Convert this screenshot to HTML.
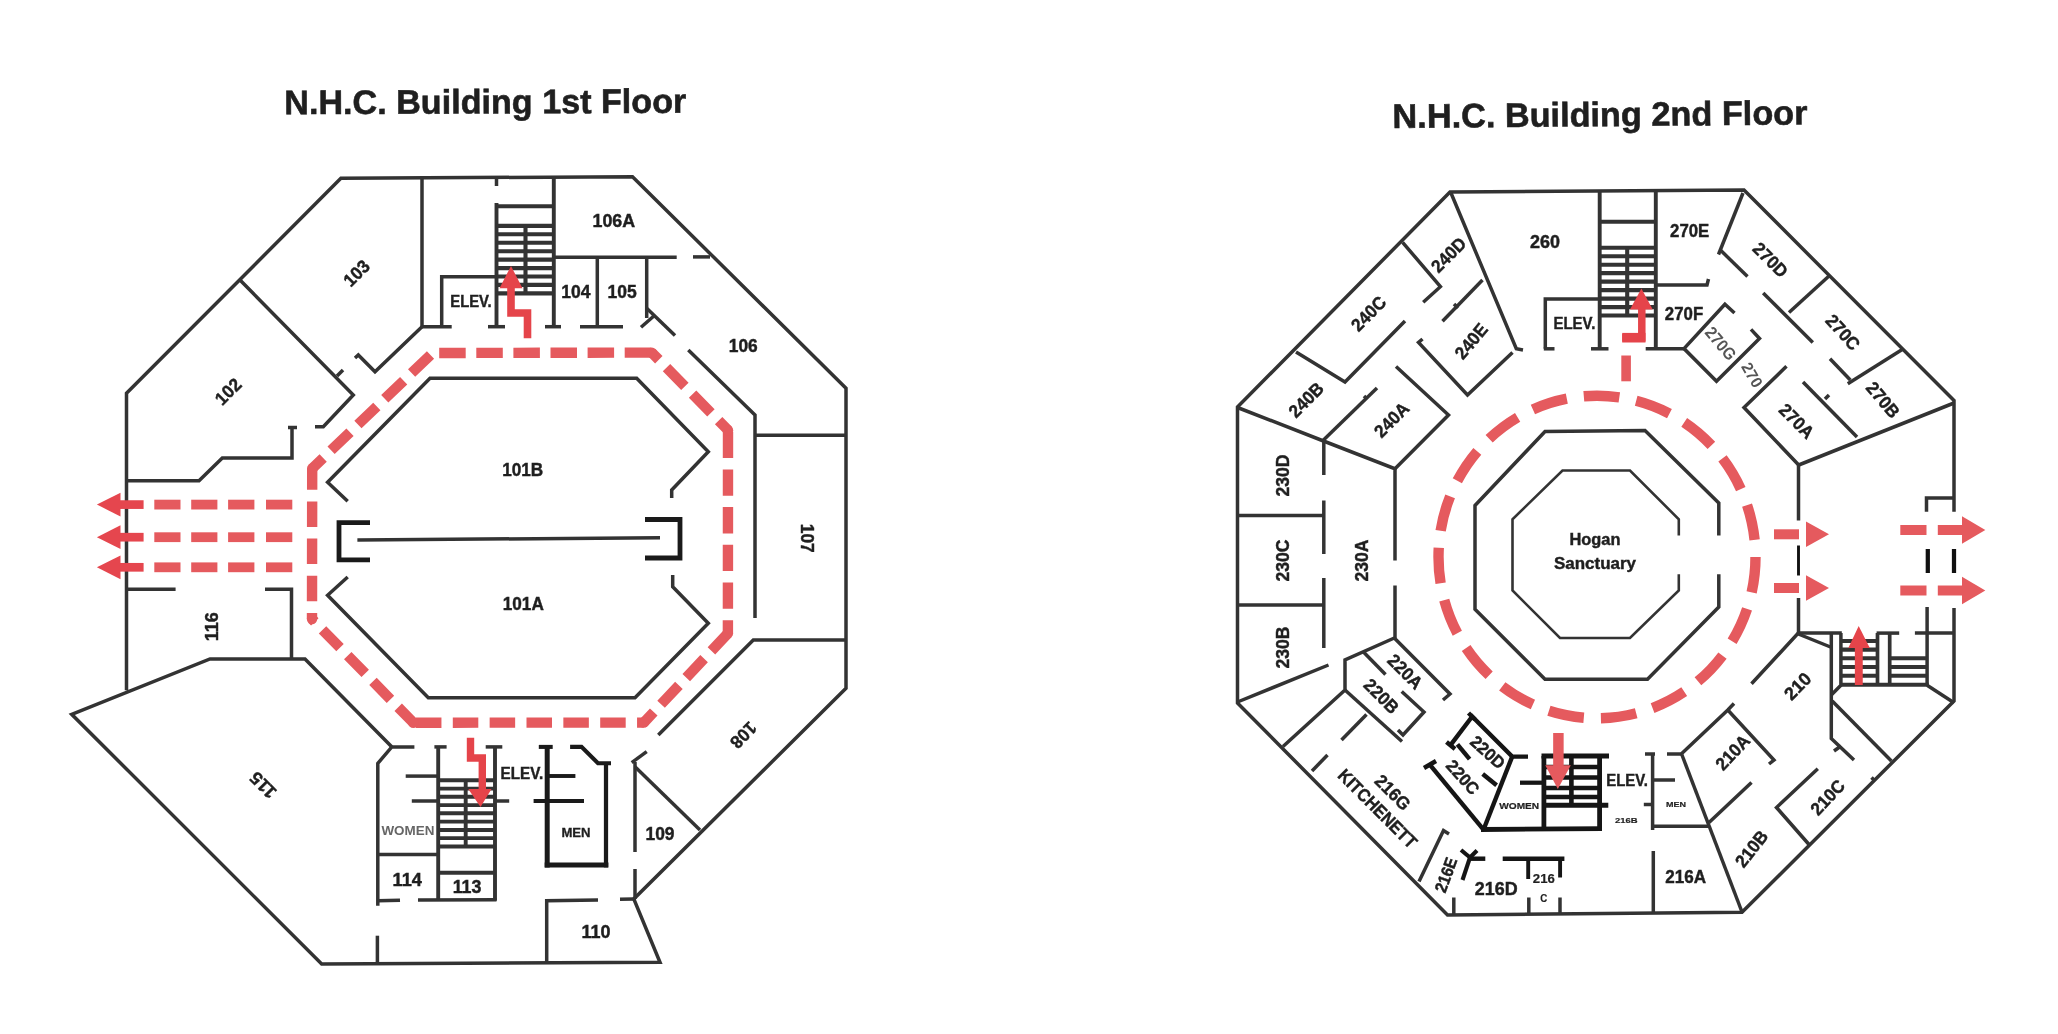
<!DOCTYPE html>
<html><head><meta charset="utf-8"><title>N.H.C. Building Floor Plans</title>
<style>
html,body{margin:0;padding:0;background:#fff;}
body{width:2058px;height:1034px;overflow:hidden;}
svg{display:block;font-family:"Liberation Sans",sans-serif;filter:blur(0.75px);}
</style></head><body>
<svg width="2058" height="1034" viewBox="0 0 2058 1034">
<rect width="2058" height="1034" fill="#ffffff"/>
<g id="floor1">
<text x="485.3" y="101.5" font-size="34" font-weight="bold" fill="#1f1f1f" text-anchor="middle" dominant-baseline="central" textLength="402" lengthAdjust="spacingAndGlyphs" transform="rotate(-0.2 485.3 101.5)" stroke="#1f1f1f" stroke-width="0.6">N.H.C. Building 1st Floor</text>
<path d="M126.5,690.3 L126.5,393.3 L340.9,178.3 L632.5,176.7 L846.0,388.3 L846.0,688.3 L633.8,899.0 L660.0,962.3 L321.7,964.0 L71.7,714.3 L210.0,659.0 L305.0,659.0 L391.7,746.7" fill="none" stroke="#333333" stroke-width="3.5" stroke-linecap="butt" stroke-linejoin="miter" />
<path d="M240.0,280.0 L353.3,395.0 L323.3,426.7 L315.0,426.7" fill="none" stroke="#333333" stroke-width="3.5" stroke-linecap="butt" stroke-linejoin="miter" />
<path d="M343.0,370.0 L337.0,376.0" fill="none" stroke="#333333" stroke-width="3.5" stroke-linecap="butt" stroke-linejoin="miter" />
<path d="M126.5,480.8 L199.0,480.8 L222.3,458.0 L292.0,458.0 L292.0,427.0" fill="none" stroke="#333333" stroke-width="3.5" stroke-linecap="butt" stroke-linejoin="miter" />
<path d="M288.0,427.5 L297.0,427.5" fill="none" stroke="#333333" stroke-width="3.5" stroke-linecap="butt" stroke-linejoin="miter" />
<path d="M422.0,326.7 L375.0,371.7 L358.3,355.0 L355.0,358.0" fill="none" stroke="#333333" stroke-width="3.5" stroke-linecap="butt" stroke-linejoin="miter" />
<path d="M422.0,178.0 L422.0,326.7 L451.7,326.7" fill="none" stroke="#333333" stroke-width="3.5" stroke-linecap="butt" stroke-linejoin="miter" />
<path d="M441.7,326.7 L441.7,276.7 L496.7,276.7" fill="none" stroke="#333333" stroke-width="3.5" stroke-linecap="butt" stroke-linejoin="miter" />
<path d="M496.5,203.0 L496.5,326.7" fill="none" stroke="#333333" stroke-width="3.9" stroke-linecap="butt" stroke-linejoin="miter" />
<path d="M488.0,326.7 L505.0,326.7" fill="none" stroke="#333333" stroke-width="3.5" stroke-linecap="butt" stroke-linejoin="miter" />
<path d="M496.5,178.0 L496.5,186.0" fill="none" stroke="#333333" stroke-width="3.5" stroke-linecap="butt" stroke-linejoin="miter" />
<path d="M553.8,177.0 L553.8,326.7" fill="none" stroke="#333333" stroke-width="3.9" stroke-linecap="butt" stroke-linejoin="miter" />
<path d="M545.0,326.7 L561.0,326.7" fill="none" stroke="#333333" stroke-width="3.5" stroke-linecap="butt" stroke-linejoin="miter" />
<path d="M496.5,206.3 L553.8,206.3" fill="none" stroke="#333333" stroke-width="3.9" stroke-linecap="butt" stroke-linejoin="miter" />
<path d="M496.5,225.8 L553.8,225.8" fill="none" stroke="#333333" stroke-width="4.15" stroke-linecap="butt" stroke-linejoin="miter" />
<path d="M496.5,234.2 L553.8,234.2" fill="none" stroke="#333333" stroke-width="4.15" stroke-linecap="butt" stroke-linejoin="miter" />
<path d="M496.5,242.7 L553.8,242.7" fill="none" stroke="#333333" stroke-width="4.15" stroke-linecap="butt" stroke-linejoin="miter" />
<path d="M496.5,251.2 L553.8,251.2" fill="none" stroke="#333333" stroke-width="4.15" stroke-linecap="butt" stroke-linejoin="miter" />
<path d="M496.5,259.6 L553.8,259.6" fill="none" stroke="#333333" stroke-width="4.15" stroke-linecap="butt" stroke-linejoin="miter" />
<path d="M496.5,268.1 L553.8,268.1" fill="none" stroke="#333333" stroke-width="4.15" stroke-linecap="butt" stroke-linejoin="miter" />
<path d="M496.5,276.5 L553.8,276.5" fill="none" stroke="#333333" stroke-width="4.15" stroke-linecap="butt" stroke-linejoin="miter" />
<path d="M496.5,284.9 L553.8,284.9" fill="none" stroke="#333333" stroke-width="4.15" stroke-linecap="butt" stroke-linejoin="miter" />
<path d="M496.5,293.4 L553.8,293.4" fill="none" stroke="#333333" stroke-width="4.15" stroke-linecap="butt" stroke-linejoin="miter" />
<path d="M525.5,225.8 L525.5,293.4" fill="none" stroke="#333333" stroke-width="4.1" stroke-linecap="butt" stroke-linejoin="miter" />
<path d="M553.8,257.3 L676.7,257.3" fill="none" stroke="#333333" stroke-width="3.5" stroke-linecap="butt" stroke-linejoin="miter" />
<path d="M693.0,256.9 L710.0,256.9" fill="none" stroke="#333333" stroke-width="3.5" stroke-linecap="butt" stroke-linejoin="miter" />
<path d="M597.3,257.3 L597.3,326.7" fill="none" stroke="#333333" stroke-width="3.5" stroke-linecap="butt" stroke-linejoin="miter" />
<path d="M580.0,326.7 L623.0,326.7" fill="none" stroke="#333333" stroke-width="3.5" stroke-linecap="butt" stroke-linejoin="miter" />
<path d="M646.7,257.3 L646.7,318.0" fill="none" stroke="#333333" stroke-width="3.5" stroke-linecap="butt" stroke-linejoin="miter" />
<path d="M646.7,308.3 L675.0,335.4" fill="none" stroke="#333333" stroke-width="3.5" stroke-linecap="butt" stroke-linejoin="miter" />
<path d="M641.0,327.3 L655.0,315.0" fill="none" stroke="#333333" stroke-width="3.5" stroke-linecap="butt" stroke-linejoin="miter" />
<path d="M688.3,350.0 L755.0,415.0 L755.0,618.0" fill="none" stroke="#333333" stroke-width="3.5" stroke-linecap="butt" stroke-linejoin="miter" />
<path d="M755.0,435.2 L846.0,435.2" fill="none" stroke="#333333" stroke-width="3.5" stroke-linecap="butt" stroke-linejoin="miter" />
<path d="M846.0,640.0 L753.3,640.0 L658.3,735.0" fill="none" stroke="#333333" stroke-width="3.5" stroke-linecap="butt" stroke-linejoin="miter" />
<path d="M646.7,751.7 L631.7,762.7" fill="none" stroke="#333333" stroke-width="3.5" stroke-linecap="butt" stroke-linejoin="miter" />
<path d="M635.0,762.0 L635.0,852.0" fill="none" stroke="#333333" stroke-width="3.5" stroke-linecap="butt" stroke-linejoin="miter" />
<path d="M635.0,869.0 L635.0,899.0" fill="none" stroke="#333333" stroke-width="3.5" stroke-linecap="butt" stroke-linejoin="miter" />
<path d="M635.0,766.7 L700.0,830.0" fill="none" stroke="#333333" stroke-width="3.5" stroke-linecap="butt" stroke-linejoin="miter" />
<path d="M546.7,963.0 L546.7,900.7 L598.0,899.9" fill="none" stroke="#333333" stroke-width="3.5" stroke-linecap="butt" stroke-linejoin="miter" />
<path d="M620.0,899.3 L634.0,899.0" fill="none" stroke="#333333" stroke-width="3.5" stroke-linecap="butt" stroke-linejoin="miter" />
<path d="M347.7,501.2 L327.6,482.3 L430.0,378.3 L636.7,378.3 L708.3,451.7 L671.7,490.0 L671.7,498.0" fill="none" stroke="#333333" stroke-width="3.5" stroke-linecap="butt" stroke-linejoin="miter" />
<path d="M347.7,577.0 L327.6,595.3 L428.3,697.7 L635.0,697.7 L708.3,623.3 L672.7,586.7 L672.7,575.0" fill="none" stroke="#333333" stroke-width="3.5" stroke-linecap="butt" stroke-linejoin="miter" />
<path d="M357.4,540.0 L660.0,537.8" fill="none" stroke="#333333" stroke-width="3.5" stroke-linecap="butt" stroke-linejoin="miter" />
<path d="M370.0,522.6 L339.0,522.6 L339.0,559.8 L370.0,559.8" fill="none" stroke="#1a1a1a" stroke-width="4.8" stroke-linecap="butt" stroke-linejoin="miter" />
<path d="M645.0,519.5 L680.0,519.5 L680.0,558.0 L645.0,558.0" fill="none" stroke="#1a1a1a" stroke-width="4.8" stroke-linecap="butt" stroke-linejoin="miter" />
<path d="M126.5,589.3 L175.6,589.3" fill="none" stroke="#333333" stroke-width="3.5" stroke-linecap="butt" stroke-linejoin="miter" />
<path d="M265.0,589.3 L291.5,589.3 L291.5,659.0" fill="none" stroke="#333333" stroke-width="3.5" stroke-linecap="butt" stroke-linejoin="miter" />
<path d="M414.4,746.9 L391.8,746.9 L377.8,763.3 L377.8,905.7" fill="none" stroke="#333333" stroke-width="3.5" stroke-linecap="butt" stroke-linejoin="miter" />
<path d="M377.4,935.7 L377.4,964.0" fill="none" stroke="#333333" stroke-width="3.5" stroke-linecap="butt" stroke-linejoin="miter" />
<path d="M434.4,746.9 L446.6,746.9" fill="none" stroke="#333333" stroke-width="3.5" stroke-linecap="butt" stroke-linejoin="miter" />
<path d="M485.7,746.9 L502.3,746.9" fill="none" stroke="#333333" stroke-width="3.5" stroke-linecap="butt" stroke-linejoin="miter" />
<path d="M438.2,746.9 L438.2,900.7" fill="none" stroke="#333333" stroke-width="3.9" stroke-linecap="butt" stroke-linejoin="miter" />
<path d="M495.0,746.9 L495.0,900.7" fill="none" stroke="#333333" stroke-width="3.9" stroke-linecap="butt" stroke-linejoin="miter" />
<path d="M405.7,776.1 L437.0,776.1" fill="none" stroke="#333333" stroke-width="3.5" stroke-linecap="butt" stroke-linejoin="miter" />
<path d="M411.8,801.0 L438.0,801.0" fill="none" stroke="#333333" stroke-width="3.5" stroke-linecap="butt" stroke-linejoin="miter" />
<path d="M495.0,801.0 L509.2,801.0" fill="none" stroke="#333333" stroke-width="3.5" stroke-linecap="butt" stroke-linejoin="miter" />
<path d="M438.2,780.3 L495.0,780.3" fill="none" stroke="#333333" stroke-width="3.95" stroke-linecap="butt" stroke-linejoin="miter" />
<path d="M438.2,788.6 L495.0,788.6" fill="none" stroke="#333333" stroke-width="3.95" stroke-linecap="butt" stroke-linejoin="miter" />
<path d="M438.2,796.8 L495.0,796.8" fill="none" stroke="#333333" stroke-width="3.95" stroke-linecap="butt" stroke-linejoin="miter" />
<path d="M438.2,805.1 L495.0,805.1" fill="none" stroke="#333333" stroke-width="3.95" stroke-linecap="butt" stroke-linejoin="miter" />
<path d="M438.2,813.3 L495.0,813.3" fill="none" stroke="#333333" stroke-width="3.95" stroke-linecap="butt" stroke-linejoin="miter" />
<path d="M438.2,821.6 L495.0,821.6" fill="none" stroke="#333333" stroke-width="3.95" stroke-linecap="butt" stroke-linejoin="miter" />
<path d="M438.2,829.9 L495.0,829.9" fill="none" stroke="#333333" stroke-width="3.95" stroke-linecap="butt" stroke-linejoin="miter" />
<path d="M438.2,838.1 L495.0,838.1" fill="none" stroke="#333333" stroke-width="3.95" stroke-linecap="butt" stroke-linejoin="miter" />
<path d="M438.2,846.4 L495.0,846.4" fill="none" stroke="#333333" stroke-width="3.95" stroke-linecap="butt" stroke-linejoin="miter" />
<path d="M465.7,780.5 L465.7,846.0" fill="none" stroke="#333333" stroke-width="3.9" stroke-linecap="butt" stroke-linejoin="miter" />
<path d="M438.2,872.7 L495.0,872.7" fill="none" stroke="#333333" stroke-width="3.9" stroke-linecap="butt" stroke-linejoin="miter" />
<path d="M377.8,854.4 L438.2,854.4" fill="none" stroke="#333333" stroke-width="3.5" stroke-linecap="butt" stroke-linejoin="miter" />
<path d="M377.8,900.7 L400.0,900.2" fill="none" stroke="#333333" stroke-width="3.5" stroke-linecap="butt" stroke-linejoin="miter" />
<path d="M418.0,899.9 L496.5,899.7" fill="none" stroke="#333333" stroke-width="3.5" stroke-linecap="butt" stroke-linejoin="miter" />
<path d="M547.2,745.0 L547.2,867.5" fill="none" stroke="#1a1a1a" stroke-width="5" stroke-linecap="butt" stroke-linejoin="miter" />
<path d="M538.8,746.9 L552.7,746.9" fill="none" stroke="#1a1a1a" stroke-width="4.05" stroke-linecap="butt" stroke-linejoin="miter" />
<path d="M544.7,865.0 L608.4,865.0" fill="none" stroke="#1a1a1a" stroke-width="4.8" stroke-linecap="butt" stroke-linejoin="miter" />
<path d="M606.0,763.0 L606.0,867.4" fill="none" stroke="#1a1a1a" stroke-width="4.25" stroke-linecap="butt" stroke-linejoin="miter" />
<path d="M570.1,746.9 L581.5,746.9 L598.0,763.3 L611.0,763.3" fill="none" stroke="#1a1a1a" stroke-width="4.1" stroke-linecap="butt" stroke-linejoin="miter" />
<path d="M547.0,776.0 L575.4,776.0" fill="none" stroke="#1a1a1a" stroke-width="3.9" stroke-linecap="butt" stroke-linejoin="miter" />
<path d="M533.6,801.0 L584.0,801.0" fill="none" stroke="#1a1a1a" stroke-width="3.9" stroke-linecap="butt" stroke-linejoin="miter" />
<path d="M312.2,468.5 L432.5,353" fill="none" stroke="#e55a5e" stroke-width="10.4" stroke-dasharray="26.2 11.0" stroke-dashoffset="11.0"/>
<path d="M432.5,353 L651.8,352.6" fill="none" stroke="#e55a5e" stroke-width="10.4" stroke-dasharray="26.5 10.6" stroke-dashoffset="30.4"/>
<path d="M651.8,352.6 L728,430.2" fill="none" stroke="#e55a5e" stroke-width="10.4" stroke-dasharray="26.2 11.0" stroke-dashoffset="16.2"/>
<path d="M728,430.2 L727.9,633.4" fill="none" stroke="#e55a5e" stroke-width="10.4" stroke-dasharray="26.3 11.4" stroke-dashoffset="36.2"/>
<path d="M727.9,633.4 L643.8,722.6" fill="none" stroke="#e55a5e" stroke-width="10.4" stroke-dasharray="26.0 10.7" stroke-dashoffset="2.0"/>
<path d="M643.8,722.6 L413.3,722.7" fill="none" stroke="#e55a5e" stroke-width="10.4" stroke-dasharray="25.5 11.35" stroke-dashoffset="18.75"/>
<path d="M413.3,722.7 L312,619" fill="none" stroke="#e55a5e" stroke-width="10.4" stroke-dasharray="25.0 11.1" stroke-dashoffset="3.4"/>
<path d="M312,619 L312.2,468.5" fill="none" stroke="#e55a5e" stroke-width="10.4" stroke-dasharray="25.5 11.7" stroke-dashoffset="19.5"/>
<circle cx="312.2" cy="468.5" r="5.2" fill="#e55a5e"/>
<circle cx="651.8" cy="352.6" r="5.2" fill="#e55a5e"/>
<circle cx="728" cy="430.2" r="5.2" fill="#e55a5e"/>
<circle cx="727.9" cy="633.4" r="5.2" fill="#e55a5e"/>
<circle cx="643.8" cy="722.6" r="5.2" fill="#e55a5e"/>
<circle cx="413.3" cy="722.7" r="5.2" fill="#e55a5e"/>
<circle cx="312" cy="619" r="5.2" fill="#e55a5e"/>
<path d="M154.3,504.6 L180.5,504.6" fill="none" stroke="#e55a5e" stroke-width="9.8" stroke-linecap="butt" stroke-linejoin="miter" />
<path d="M191.2,504.6 L217.4,504.6" fill="none" stroke="#e55a5e" stroke-width="9.8" stroke-linecap="butt" stroke-linejoin="miter" />
<path d="M228.1,504.6 L254.4,504.6" fill="none" stroke="#e55a5e" stroke-width="9.8" stroke-linecap="butt" stroke-linejoin="miter" />
<path d="M266.0,504.6 L292.3,504.6" fill="none" stroke="#e55a5e" stroke-width="9.8" stroke-linecap="butt" stroke-linejoin="miter" />
<path d="M118.0,504.6 L143.6,504.6" fill="none" stroke="#e5464e" stroke-width="8.7" stroke-linecap="butt" stroke-linejoin="miter" />
<polygon points="96.9,504.6 120.5,492.7 120.5,516.5" fill="#e5464e"/>
<path d="M154.3,537.2 L180.5,537.2" fill="none" stroke="#e55a5e" stroke-width="9.8" stroke-linecap="butt" stroke-linejoin="miter" />
<path d="M191.2,537.2 L217.4,537.2" fill="none" stroke="#e55a5e" stroke-width="9.8" stroke-linecap="butt" stroke-linejoin="miter" />
<path d="M228.1,537.2 L254.4,537.2" fill="none" stroke="#e55a5e" stroke-width="9.8" stroke-linecap="butt" stroke-linejoin="miter" />
<path d="M266.0,537.2 L292.3,537.2" fill="none" stroke="#e55a5e" stroke-width="9.8" stroke-linecap="butt" stroke-linejoin="miter" />
<path d="M118.0,537.2 L143.6,537.2" fill="none" stroke="#e5464e" stroke-width="8.7" stroke-linecap="butt" stroke-linejoin="miter" />
<polygon points="96.9,537.2 120.5,525.3 120.5,549.1" fill="#e5464e"/>
<path d="M154.3,567.3 L180.5,567.3" fill="none" stroke="#e55a5e" stroke-width="9.8" stroke-linecap="butt" stroke-linejoin="miter" />
<path d="M191.2,567.3 L217.4,567.3" fill="none" stroke="#e55a5e" stroke-width="9.8" stroke-linecap="butt" stroke-linejoin="miter" />
<path d="M228.1,567.3 L254.4,567.3" fill="none" stroke="#e55a5e" stroke-width="9.8" stroke-linecap="butt" stroke-linejoin="miter" />
<path d="M266.0,567.3 L292.3,567.3" fill="none" stroke="#e55a5e" stroke-width="9.8" stroke-linecap="butt" stroke-linejoin="miter" />
<path d="M118.0,567.3 L143.6,567.3" fill="none" stroke="#e5464e" stroke-width="8.7" stroke-linecap="butt" stroke-linejoin="miter" />
<polygon points="96.9,567.3 120.5,555.4 120.5,579.2" fill="#e5464e"/>
<path d="M511.0,286.0 L511.0,313.0 L527.5,313.0 L527.5,338.3" fill="none" stroke="#e5444a" stroke-width="7.6" stroke-linecap="butt" stroke-linejoin="miter" />
<polygon points="511.0,266.0 499.5,288.3 522.5,288.3" fill="#e5444a"/>
<path d="M470.5,737.8 L470.5,758.0 L482.3,758.0 L482.3,792.0" fill="none" stroke="#e5444a" stroke-width="7.4" stroke-linecap="butt" stroke-linejoin="miter" />
<polygon points="468.3,789.0 491.5,789.0 480.5,807.0" fill="#e5444a"/>
<text x="356.7" y="273.3" font-size="18" font-weight="bold" fill="#1f1f1f" text-anchor="middle" dominant-baseline="central" textLength="29" lengthAdjust="spacingAndGlyphs" transform="rotate(-45 356.7 273.3)" stroke="#1f1f1f" stroke-width="0.45">103</text>
<text x="228.3" y="391.7" font-size="18" font-weight="bold" fill="#1f1f1f" text-anchor="middle" dominant-baseline="central" textLength="29" lengthAdjust="spacingAndGlyphs" transform="rotate(-45 228.3 391.7)" stroke="#1f1f1f" stroke-width="0.45">102</text>
<text x="471.0" y="301.5" font-size="17" font-weight="bold" fill="#1f1f1f" text-anchor="middle" dominant-baseline="central" textLength="41.5" lengthAdjust="spacingAndGlyphs" stroke="#1f1f1f" stroke-width="0.45">ELEV.</text>
<text x="613.8" y="221.3" font-size="18" font-weight="bold" fill="#1f1f1f" text-anchor="middle" dominant-baseline="central" textLength="42.6" lengthAdjust="spacingAndGlyphs" stroke="#1f1f1f" stroke-width="0.45">106A</text>
<text x="575.9" y="292.4" font-size="18" font-weight="bold" fill="#1f1f1f" text-anchor="middle" dominant-baseline="central" textLength="29.2" lengthAdjust="spacingAndGlyphs" stroke="#1f1f1f" stroke-width="0.45">104</text>
<text x="622.2" y="292.4" font-size="18" font-weight="bold" fill="#1f1f1f" text-anchor="middle" dominant-baseline="central" textLength="29.2" lengthAdjust="spacingAndGlyphs" stroke="#1f1f1f" stroke-width="0.45">105</text>
<text x="743.3" y="345.7" font-size="18" font-weight="bold" fill="#1f1f1f" text-anchor="middle" dominant-baseline="central" textLength="29" lengthAdjust="spacingAndGlyphs" stroke="#1f1f1f" stroke-width="0.45">106</text>
<text x="522.7" y="470.0" font-size="18" font-weight="bold" fill="#1f1f1f" text-anchor="middle" dominant-baseline="central" textLength="41" lengthAdjust="spacingAndGlyphs" stroke="#1f1f1f" stroke-width="0.45">101B</text>
<text x="523.3" y="604.3" font-size="18" font-weight="bold" fill="#1f1f1f" text-anchor="middle" dominant-baseline="central" textLength="41" lengthAdjust="spacingAndGlyphs" stroke="#1f1f1f" stroke-width="0.45">101A</text>
<text x="806.7" y="538.3" font-size="18" font-weight="bold" fill="#1f1f1f" text-anchor="middle" dominant-baseline="central" textLength="29" lengthAdjust="spacingAndGlyphs" transform="rotate(90 806.7 538.3)" stroke="#1f1f1f" stroke-width="0.45">107</text>
<text x="743.3" y="735.0" font-size="18" font-weight="bold" fill="#1f1f1f" text-anchor="middle" dominant-baseline="central" textLength="29" lengthAdjust="spacingAndGlyphs" transform="rotate(135 743.3 735.0)" stroke="#1f1f1f" stroke-width="0.45">108</text>
<text x="211.7" y="626.7" font-size="18" font-weight="bold" fill="#1f1f1f" text-anchor="middle" dominant-baseline="central" textLength="29" lengthAdjust="spacingAndGlyphs" transform="rotate(-90 211.7 626.7)" stroke="#1f1f1f" stroke-width="0.45">116</text>
<text x="263.3" y="785.0" font-size="18" font-weight="bold" fill="#1f1f1f" text-anchor="middle" dominant-baseline="central" textLength="29" lengthAdjust="spacingAndGlyphs" transform="rotate(-135 263.3 785.0)" stroke="#1f1f1f" stroke-width="0.45">115</text>
<text x="407.9" y="830.5" font-size="13" font-weight="bold" fill="#666" text-anchor="middle" dominant-baseline="central" textLength="53" lengthAdjust="spacingAndGlyphs" >WOMEN</text>
<text x="521.9" y="773.0" font-size="16" font-weight="bold" fill="#1f1f1f" text-anchor="middle" dominant-baseline="central" textLength="42.6" lengthAdjust="spacingAndGlyphs" stroke="#1f1f1f" stroke-width="0.45">ELEV.</text>
<text x="576.0" y="832.7" font-size="12" font-weight="bold" fill="#1f1f1f" text-anchor="middle" dominant-baseline="central" textLength="29.2" lengthAdjust="spacingAndGlyphs" stroke="#1f1f1f" stroke-width="0.3">MEN</text>
<text x="407.2" y="879.7" font-size="18" font-weight="bold" fill="#1f1f1f" text-anchor="middle" dominant-baseline="central" textLength="29.3" lengthAdjust="spacingAndGlyphs" stroke="#1f1f1f" stroke-width="0.45">114</text>
<text x="467.0" y="887.0" font-size="18" font-weight="bold" fill="#1f1f1f" text-anchor="middle" dominant-baseline="central" textLength="28.7" lengthAdjust="spacingAndGlyphs" stroke="#1f1f1f" stroke-width="0.45">113</text>
<text x="660.0" y="834.0" font-size="18" font-weight="bold" fill="#1f1f1f" text-anchor="middle" dominant-baseline="central" textLength="29" lengthAdjust="spacingAndGlyphs" stroke="#1f1f1f" stroke-width="0.45">109</text>
<text x="596.0" y="932.3" font-size="18" font-weight="bold" fill="#1f1f1f" text-anchor="middle" dominant-baseline="central" textLength="29" lengthAdjust="spacingAndGlyphs" stroke="#1f1f1f" stroke-width="0.45">110</text>
</g>
<g id="floor2">
<text x="1600.0" y="114.2" font-size="34" font-weight="bold" fill="#1f1f1f" text-anchor="middle" dominant-baseline="central" textLength="415" lengthAdjust="spacingAndGlyphs" transform="rotate(-0.5 1600.0 114.2)" stroke="#1f1f1f" stroke-width="0.6">N.H.C. Building 2nd Floor</text>
<path d="M1954.0,511.8 L1954.0,400.5 L1744.0,190.0 L1450.0,192.0 L1237.5,407.0 L1237.5,703.0 L1447.5,915.0 L1742.0,912.3 L1954.0,701.0 L1954.0,608.0" fill="none" stroke="#333333" stroke-width="3.5" stroke-linecap="butt" stroke-linejoin="miter" />
<path d="M1954.0,549.0 L1954.0,573.0" fill="none" stroke="#111" stroke-width="4.25" stroke-linecap="butt" stroke-linejoin="miter" />
<path d="M1927.8,549.0 L1927.8,573.0" fill="none" stroke="#111" stroke-width="4.25" stroke-linecap="butt" stroke-linejoin="miter" />
<path d="M1954.0,498.0 L1926.5,498.0 L1926.5,511.8" fill="none" stroke="#333333" stroke-width="3.5" stroke-linecap="butt" stroke-linejoin="miter" />
<path d="M1927.1,607.0 L1927.1,685.3" fill="none" stroke="#333333" stroke-width="3.5" stroke-linecap="butt" stroke-linejoin="miter" />
<path d="M1451.0,193.0 L1516.3,348.8 L1523.0,350.0" fill="none" stroke="#333333" stroke-width="3.5" stroke-linecap="butt" stroke-linejoin="miter" />
<path d="M1402.6,242.3 L1440.4,286.7 L1423.2,302.3" fill="none" stroke="#333333" stroke-width="3.5" stroke-linecap="butt" stroke-linejoin="miter" />
<path d="M1296.0,352.0 L1345.0,382.0 L1405.0,321.0" fill="none" stroke="#333333" stroke-width="3.5" stroke-linecap="butt" stroke-linejoin="miter" />
<path d="M1442.5,321.3 L1482.5,280.0" fill="none" stroke="#333333" stroke-width="3.5" stroke-linecap="butt" stroke-linejoin="miter" />
<path d="M1454.0,304.0 L1458.0,308.0" fill="none" stroke="#333333" stroke-width="3.5" stroke-linecap="butt" stroke-linejoin="miter" />
<path d="M1422.5,339.0 L1418.5,342.5 L1467.5,395.0 L1512.5,352.5" fill="none" stroke="#333333" stroke-width="3.5" stroke-linecap="butt" stroke-linejoin="miter" />
<path d="M1396.0,366.5 L1448.5,415.0 L1395.0,468.8" fill="none" stroke="#333333" stroke-width="3.5" stroke-linecap="butt" stroke-linejoin="miter" />
<path d="M1377.0,388.0 L1323.5,440.0" fill="none" stroke="#333333" stroke-width="3.5" stroke-linecap="butt" stroke-linejoin="miter" />
<path d="M1364.0,396.0 L1367.0,399.0" fill="none" stroke="#333333" stroke-width="3.5" stroke-linecap="butt" stroke-linejoin="miter" />
<path d="M1237.5,407.5 L1323.5,441.0 L1395.0,468.8 L1395.0,560.5" fill="none" stroke="#333333" stroke-width="3.5" stroke-linecap="butt" stroke-linejoin="miter" />
<path d="M1395.0,585.5 L1395.0,638.0" fill="none" stroke="#333333" stroke-width="3.5" stroke-linecap="butt" stroke-linejoin="miter" />
<path d="M1323.8,440.0 L1323.8,475.0" fill="none" stroke="#333333" stroke-width="3.5" stroke-linecap="butt" stroke-linejoin="miter" />
<path d="M1323.8,500.5 L1323.8,554.0" fill="none" stroke="#333333" stroke-width="3.5" stroke-linecap="butt" stroke-linejoin="miter" />
<path d="M1323.8,578.0 L1323.8,648.0" fill="none" stroke="#333333" stroke-width="3.5" stroke-linecap="butt" stroke-linejoin="miter" />
<path d="M1237.5,515.5 L1323.8,515.5" fill="none" stroke="#333333" stroke-width="3.5" stroke-linecap="butt" stroke-linejoin="miter" />
<path d="M1237.5,605.0 L1323.8,605.0" fill="none" stroke="#333333" stroke-width="3.5" stroke-linecap="butt" stroke-linejoin="miter" />
<path d="M1599.7,190.7 L1599.7,349.0" fill="none" stroke="#333333" stroke-width="3.9" stroke-linecap="butt" stroke-linejoin="miter" />
<path d="M1655.8,190.3 L1655.8,349.0" fill="none" stroke="#333333" stroke-width="3.9" stroke-linecap="butt" stroke-linejoin="miter" />
<path d="M1591.0,348.8 L1608.5,348.8" fill="none" stroke="#333333" stroke-width="3.5" stroke-linecap="butt" stroke-linejoin="miter" />
<path d="M1645.7,348.8 L1684.0,348.8" fill="none" stroke="#333333" stroke-width="3.5" stroke-linecap="butt" stroke-linejoin="miter" />
<path d="M1599.7,221.8 L1655.8,221.8" fill="none" stroke="#333333" stroke-width="3.9" stroke-linecap="butt" stroke-linejoin="miter" />
<path d="M1599.7,247.7 L1655.8,247.7" fill="none" stroke="#333333" stroke-width="4.15" stroke-linecap="butt" stroke-linejoin="miter" />
<path d="M1599.7,256.2 L1655.8,256.2" fill="none" stroke="#333333" stroke-width="4.15" stroke-linecap="butt" stroke-linejoin="miter" />
<path d="M1599.7,264.7 L1655.8,264.7" fill="none" stroke="#333333" stroke-width="4.15" stroke-linecap="butt" stroke-linejoin="miter" />
<path d="M1599.7,273.1 L1655.8,273.1" fill="none" stroke="#333333" stroke-width="4.15" stroke-linecap="butt" stroke-linejoin="miter" />
<path d="M1599.7,281.6 L1655.8,281.6" fill="none" stroke="#333333" stroke-width="4.15" stroke-linecap="butt" stroke-linejoin="miter" />
<path d="M1599.7,290.1 L1655.8,290.1" fill="none" stroke="#333333" stroke-width="4.15" stroke-linecap="butt" stroke-linejoin="miter" />
<path d="M1599.7,298.6 L1655.8,298.6" fill="none" stroke="#333333" stroke-width="4.15" stroke-linecap="butt" stroke-linejoin="miter" />
<path d="M1599.7,307.1 L1655.8,307.1" fill="none" stroke="#333333" stroke-width="4.15" stroke-linecap="butt" stroke-linejoin="miter" />
<path d="M1599.7,315.5 L1655.8,315.5" fill="none" stroke="#333333" stroke-width="4.15" stroke-linecap="butt" stroke-linejoin="miter" />
<path d="M1627.2,247.7 L1627.2,315.5" fill="none" stroke="#333333" stroke-width="4.1" stroke-linecap="butt" stroke-linejoin="miter" />
<path d="M1545.3,348.8 L1545.3,299.0 L1599.7,299.0" fill="none" stroke="#333333" stroke-width="3.5" stroke-linecap="butt" stroke-linejoin="miter" />
<path d="M1543.8,348.8 L1554.5,348.8" fill="none" stroke="#333333" stroke-width="3.5" stroke-linecap="butt" stroke-linejoin="miter" />
<path d="M1655.8,285.0 L1707.0,285.0 L1708.5,279.0" fill="none" stroke="#333333" stroke-width="3.5" stroke-linecap="butt" stroke-linejoin="miter" />
<path d="M1734.5,313.0 L1724.9,304.2 L1684.0,348.6 L1716.5,381.3 L1759.5,338.5 L1751.0,329.4" fill="none" stroke="#333333" stroke-width="3.5" stroke-linecap="butt" stroke-linejoin="miter" />
<path d="M1743.0,193.0 L1718.5,254.5" fill="none" stroke="#333333" stroke-width="3.5" stroke-linecap="butt" stroke-linejoin="miter" />
<path d="M1720.6,250.3 L1747.5,276.4" fill="none" stroke="#333333" stroke-width="3.5" stroke-linecap="butt" stroke-linejoin="miter" />
<path d="M1763.2,292.9 L1812.8,342.5" fill="none" stroke="#333333" stroke-width="3.5" stroke-linecap="butt" stroke-linejoin="miter" />
<path d="M1830.0,358.8 L1850.3,380.0" fill="none" stroke="#333333" stroke-width="3.5" stroke-linecap="butt" stroke-linejoin="miter" />
<path d="M1829.0,276.0 L1789.0,312.5" fill="none" stroke="#333333" stroke-width="3.5" stroke-linecap="butt" stroke-linejoin="miter" />
<path d="M1903.0,349.0 L1847.8,383.8" fill="none" stroke="#333333" stroke-width="3.5" stroke-linecap="butt" stroke-linejoin="miter" />
<path d="M1954.0,403.0 L1798.7,465.0" fill="none" stroke="#333333" stroke-width="3.5" stroke-linecap="butt" stroke-linejoin="miter" />
<path d="M1786.5,366.3 L1744.0,407.5 L1798.7,465.0" fill="none" stroke="#333333" stroke-width="3.5" stroke-linecap="butt" stroke-linejoin="miter" />
<path d="M1803.0,382.0 L1857.0,437.0" fill="none" stroke="#333333" stroke-width="3.5" stroke-linecap="butt" stroke-linejoin="miter" />
<path d="M1829.0,395.0 L1825.0,399.0" fill="none" stroke="#333333" stroke-width="3.5" stroke-linecap="butt" stroke-linejoin="miter" />
<path d="M1798.5,464.0 L1798.5,520.5" fill="none" stroke="#333333" stroke-width="3.5" stroke-linecap="butt" stroke-linejoin="miter" />
<path d="M1798.5,545.5 L1798.5,575.5" fill="none" stroke="#111" stroke-width="2.9" stroke-linecap="butt" stroke-linejoin="miter" />
<path d="M1798.5,598.0 L1798.5,633.8" fill="none" stroke="#333333" stroke-width="3.5" stroke-linecap="butt" stroke-linejoin="miter" />
<path d="M1718.8,535.5 L1718.8,503.0 L1645.0,430.5 L1545.0,431.5 L1475.0,505.5 L1475.0,609.3 L1545.0,679.3 L1647.5,679.3 L1718.8,607.0 L1718.8,574.3" fill="none" stroke="#333333" stroke-width="3.5" stroke-linecap="butt" stroke-linejoin="miter" />
<path d="M1678.8,535.5 L1678.8,519.3 L1630.0,470.5 L1562.5,470.5 L1512.5,519.3 L1512.5,590.5 L1560.0,638.0 L1630.0,638.0 L1678.8,590.5 L1678.8,574.3" fill="none" stroke="#333333" stroke-width="2.6" stroke-linecap="butt" stroke-linejoin="miter" />
<path d="M1237.5,702.0 L1328.5,665.0" fill="none" stroke="#333333" stroke-width="3.5" stroke-linecap="butt" stroke-linejoin="miter" />
<path d="M1394.3,638.0 L1345.0,660.0 L1345.0,690.0 L1283.0,746.5" fill="none" stroke="#333333" stroke-width="3.5" stroke-linecap="butt" stroke-linejoin="miter" />
<path d="M1345.0,690.0 L1402.0,741.5" fill="none" stroke="#333333" stroke-width="3.5" stroke-linecap="butt" stroke-linejoin="miter" />
<path d="M1394.3,638.0 L1450.0,694.0 L1443.0,700.0" fill="none" stroke="#333333" stroke-width="3.5" stroke-linecap="butt" stroke-linejoin="miter" />
<path d="M1363.0,651.5 L1385.5,674.5" fill="none" stroke="#333333" stroke-width="3.5" stroke-linecap="butt" stroke-linejoin="miter" />
<path d="M1401.7,691.5 L1424.0,712.0 L1403.0,735.0 L1398.0,730.0" fill="none" stroke="#333333" stroke-width="3.5" stroke-linecap="butt" stroke-linejoin="miter" />
<path d="M1341.5,740.0 L1366.5,714.5" fill="none" stroke="#333333" stroke-width="3.5" stroke-linecap="butt" stroke-linejoin="miter" />
<path d="M1312.0,771.0 L1327.5,755.0" fill="none" stroke="#333333" stroke-width="3.5" stroke-linecap="butt" stroke-linejoin="miter" />
<path d="M1419.0,881.5 L1443.5,830.5 L1449.0,834.0" fill="none" stroke="#333333" stroke-width="3.5" stroke-linecap="butt" stroke-linejoin="miter" />
<path d="M1450.5,745.2 L1472.2,716.5 L1512.2,756.6 L1528.0,756.6" fill="none" stroke="#151515" stroke-width="4.4" stroke-linecap="butt" stroke-linejoin="miter" />
<path d="M1446.5,742.0 L1455.0,749.0" fill="none" stroke="#151515" stroke-width="4.4" stroke-linecap="butt" stroke-linejoin="miter" />
<path d="M1468.5,713.0 L1475.0,719.5" fill="none" stroke="#151515" stroke-width="4.4" stroke-linecap="butt" stroke-linejoin="miter" />
<path d="M1457.4,744.4 L1469.6,759.2" fill="none" stroke="#151515" stroke-width="4.4" stroke-linecap="butt" stroke-linejoin="miter" />
<path d="M1482.7,774.0 L1496.6,785.3" fill="none" stroke="#151515" stroke-width="4.4" stroke-linecap="butt" stroke-linejoin="miter" />
<path d="M1430.4,765.3 L1483.5,829.7" fill="none" stroke="#151515" stroke-width="4.4" stroke-linecap="butt" stroke-linejoin="miter" />
<path d="M1424.0,768.0 L1436.0,761.0" fill="none" stroke="#151515" stroke-width="4.4" stroke-linecap="butt" stroke-linejoin="miter" />
<path d="M1512.2,756.6 L1483.5,829.7" fill="none" stroke="#151515" stroke-width="4.4" stroke-linecap="butt" stroke-linejoin="miter" />
<path d="M1481.0,829.5 L1602.0,828.6" fill="none" stroke="#151515" stroke-width="4.8" stroke-linecap="butt" stroke-linejoin="miter" />
<path d="M1541.5,756.0 L1609.0,756.0" fill="none" stroke="#151515" stroke-width="5" stroke-linecap="butt" stroke-linejoin="miter" />
<path d="M1543.9,756.0 L1543.9,829.0" fill="none" stroke="#151515" stroke-width="4.8" stroke-linecap="butt" stroke-linejoin="miter" />
<path d="M1599.6,756.0 L1599.6,829.0" fill="none" stroke="#151515" stroke-width="4.8" stroke-linecap="butt" stroke-linejoin="miter" />
<path d="M1571.4,756.0 L1571.4,805.0" fill="none" stroke="#151515" stroke-width="4.6" stroke-linecap="butt" stroke-linejoin="miter" />
<path d="M1543.9,805.3 L1608.3,805.3" fill="none" stroke="#151515" stroke-width="5" stroke-linecap="butt" stroke-linejoin="miter" />
<path d="M1543.9,767.0 L1599.6,767.0" fill="none" stroke="#151515" stroke-width="4.45" stroke-linecap="butt" stroke-linejoin="miter" />
<path d="M1543.9,777.5 L1599.6,777.5" fill="none" stroke="#151515" stroke-width="4.45" stroke-linecap="butt" stroke-linejoin="miter" />
<path d="M1543.9,788.0 L1599.6,788.0" fill="none" stroke="#151515" stroke-width="4.45" stroke-linecap="butt" stroke-linejoin="miter" />
<path d="M1543.9,797.0 L1599.6,797.0" fill="none" stroke="#151515" stroke-width="4.45" stroke-linecap="butt" stroke-linejoin="miter" />
<path d="M1520.0,782.7 L1543.9,782.7" fill="none" stroke="#151515" stroke-width="4.25" stroke-linecap="butt" stroke-linejoin="miter" />
<path d="M1652.6,753.8 L1652.6,830.0" fill="none" stroke="#333333" stroke-width="3.5" stroke-linecap="butt" stroke-linejoin="miter" />
<path d="M1645.0,754.0 L1655.0,754.0" fill="none" stroke="#333333" stroke-width="3.5" stroke-linecap="butt" stroke-linejoin="miter" />
<path d="M1667.0,754.0 L1682.5,754.0" fill="none" stroke="#333333" stroke-width="3.5" stroke-linecap="butt" stroke-linejoin="miter" />
<path d="M1653.0,780.0 L1675.0,780.0" fill="none" stroke="#333333" stroke-width="3.5" stroke-linecap="butt" stroke-linejoin="miter" />
<path d="M1643.8,804.5 L1652.6,804.5" fill="none" stroke="#333333" stroke-width="3.5" stroke-linecap="butt" stroke-linejoin="miter" />
<path d="M1652.6,826.3 L1708.0,826.3" fill="none" stroke="#333333" stroke-width="3.5" stroke-linecap="butt" stroke-linejoin="miter" />
<path d="M1653.3,851.0 L1653.3,913.8" fill="none" stroke="#333333" stroke-width="3.5" stroke-linecap="butt" stroke-linejoin="miter" />
<path d="M1681.8,754.5 L1742.0,912.0" fill="none" stroke="#333333" stroke-width="3.5" stroke-linecap="butt" stroke-linejoin="miter" />
<path d="M1461.0,850.0 L1470.0,857.5" fill="none" stroke="#151515" stroke-width="4.1" stroke-linecap="butt" stroke-linejoin="miter" />
<path d="M1477.0,850.5 L1470.0,857.5" fill="none" stroke="#151515" stroke-width="4.1" stroke-linecap="butt" stroke-linejoin="miter" />
<path d="M1470.0,857.5 L1462.5,880.0" fill="none" stroke="#151515" stroke-width="4.1" stroke-linecap="butt" stroke-linejoin="miter" />
<path d="M1470.0,858.7 L1485.3,858.7" fill="none" stroke="#151515" stroke-width="4.45" stroke-linecap="butt" stroke-linejoin="miter" />
<path d="M1502.7,858.7 L1564.4,858.7" fill="none" stroke="#151515" stroke-width="4.4" stroke-linecap="butt" stroke-linejoin="miter" />
<path d="M1528.2,859.0 L1528.2,879.0" fill="none" stroke="#151515" stroke-width="3.9" stroke-linecap="butt" stroke-linejoin="miter" />
<path d="M1560.1,859.0 L1560.1,877.5" fill="none" stroke="#151515" stroke-width="3.9" stroke-linecap="butt" stroke-linejoin="miter" />
<path d="M1453.8,897.5 L1453.8,914.0" fill="none" stroke="#333333" stroke-width="3.5" stroke-linecap="butt" stroke-linejoin="miter" />
<path d="M1528.8,897.5 L1528.8,914.0" fill="none" stroke="#333333" stroke-width="3.5" stroke-linecap="butt" stroke-linejoin="miter" />
<path d="M1560.0,897.5 L1560.0,914.0" fill="none" stroke="#333333" stroke-width="3.5" stroke-linecap="butt" stroke-linejoin="miter" />
<path d="M1841.8,633.1 L1798.3,633.1 L1751.5,683.8" fill="none" stroke="#333333" stroke-width="3.5" stroke-linecap="butt" stroke-linejoin="miter" />
<path d="M1798.3,634.0 L1830.5,647.0" fill="none" stroke="#333333" stroke-width="3.5" stroke-linecap="butt" stroke-linejoin="miter" />
<path d="M1734.0,703.5 L1727.8,710.0 L1681.5,753.8" fill="none" stroke="#333333" stroke-width="3.5" stroke-linecap="butt" stroke-linejoin="miter" />
<path d="M1727.8,710.0 L1774.0,760.0 L1769.0,764.0" fill="none" stroke="#333333" stroke-width="3.5" stroke-linecap="butt" stroke-linejoin="miter" />
<path d="M1751.5,782.5 L1709.0,822.5" fill="none" stroke="#333333" stroke-width="3.5" stroke-linecap="butt" stroke-linejoin="miter" />
<path d="M1831.3,633.0 L1831.3,738.4 L1854.0,760.1" fill="none" stroke="#333333" stroke-width="3.5" stroke-linecap="butt" stroke-linejoin="miter" />
<path d="M1834.0,751.0 L1841.0,746.0" fill="none" stroke="#333333" stroke-width="3.5" stroke-linecap="butt" stroke-linejoin="miter" />
<path d="M1840.9,633.0 L1840.9,685.3 L1831.3,694.9" fill="none" stroke="#333333" stroke-width="3.5" stroke-linecap="butt" stroke-linejoin="miter" />
<path d="M1876.6,633.1 L1899.2,633.1" fill="none" stroke="#333333" stroke-width="3.5" stroke-linecap="butt" stroke-linejoin="miter" />
<path d="M1914.9,633.1 L1954.0,633.1" fill="none" stroke="#333333" stroke-width="3.5" stroke-linecap="butt" stroke-linejoin="miter" />
<path d="M1877.5,633.0 L1877.5,685.3" fill="none" stroke="#333333" stroke-width="3.7" stroke-linecap="butt" stroke-linejoin="miter" />
<path d="M1889.7,633.0 L1889.7,685.3" fill="none" stroke="#333333" stroke-width="3.7" stroke-linecap="butt" stroke-linejoin="miter" />
<path d="M1840.9,684.8 L1928.6,684.8" fill="none" stroke="#333333" stroke-width="4.05" stroke-linecap="butt" stroke-linejoin="miter" />
<path d="M1840.9,640.9 L1877.5,640.9" fill="none" stroke="#333333" stroke-width="4.05" stroke-linecap="butt" stroke-linejoin="miter" />
<path d="M1840.9,649.6 L1877.5,649.6" fill="none" stroke="#333333" stroke-width="4.05" stroke-linecap="butt" stroke-linejoin="miter" />
<path d="M1840.9,658.3 L1877.5,658.3" fill="none" stroke="#333333" stroke-width="4.05" stroke-linecap="butt" stroke-linejoin="miter" />
<path d="M1840.9,667.0 L1877.5,667.0" fill="none" stroke="#333333" stroke-width="4.05" stroke-linecap="butt" stroke-linejoin="miter" />
<path d="M1840.9,675.7 L1877.5,675.7" fill="none" stroke="#333333" stroke-width="4.05" stroke-linecap="butt" stroke-linejoin="miter" />
<path d="M1889.7,658.3 L1927.1,658.3" fill="none" stroke="#333333" stroke-width="4.05" stroke-linecap="butt" stroke-linejoin="miter" />
<path d="M1889.7,667.0 L1927.1,667.0" fill="none" stroke="#333333" stroke-width="4.05" stroke-linecap="butt" stroke-linejoin="miter" />
<path d="M1889.7,675.7 L1927.1,675.7" fill="none" stroke="#333333" stroke-width="4.05" stroke-linecap="butt" stroke-linejoin="miter" />
<path d="M1927.1,685.3 L1954.0,702.7" fill="none" stroke="#333333" stroke-width="3.5" stroke-linecap="butt" stroke-linejoin="miter" />
<path d="M1832.2,701.0 L1891.4,761.0" fill="none" stroke="#333333" stroke-width="3.5" stroke-linecap="butt" stroke-linejoin="miter" />
<path d="M1817.8,768.8 L1776.5,807.5 L1809.0,844.5" fill="none" stroke="#333333" stroke-width="3.5" stroke-linecap="butt" stroke-linejoin="miter" />
<path d="M1871.5,777.5 L1875.0,781.0" fill="none" stroke="#333333" stroke-width="3.5" stroke-linecap="butt" stroke-linejoin="miter" />
<ellipse cx="1597" cy="557" rx="158.5" ry="161.3" fill="none" stroke="#e55a5e" stroke-width="10.4" pathLength="1900" stroke-dasharray="67.5 32.5"/>
<path d="M1626.1,355.5 L1626.1,381.3" fill="none" stroke="#e55a5e" stroke-width="9.6" stroke-linecap="butt" stroke-linejoin="miter" />
<path d="M1641.8,302.0 L1641.8,337.7 L1622.2,337.7" fill="none" stroke="#e5444a" stroke-width="7.5" stroke-linecap="butt" stroke-linejoin="miter" />
<path d="M1622.2,337.7 L1645.5,337.7" fill="none" stroke="#e5444a" stroke-width="9.6" stroke-linecap="butt" stroke-linejoin="miter" />
<polygon points="1641.4,288.5 1630.0,309.5 1652.7,309.5" fill="#e5444a"/>
<path d="M1558.4,733.0 L1558.4,768.0" fill="none" stroke="#e55a5e" stroke-width="10.5" stroke-linecap="butt" stroke-linejoin="miter" />
<polygon points="1545.3,765.3 1570.8,765.3 1557.8,789.0" fill="#e55a5e"/>
<path d="M1858.8,645.0 L1858.8,685.0" fill="none" stroke="#e5444a" stroke-width="7.9" stroke-linecap="butt" stroke-linejoin="miter" />
<polygon points="1858.7,626.0 1848.3,648.0 1869.8,648.0" fill="#e5444a"/>
<path d="M1774.0,534.3 L1799.0,534.3" fill="none" stroke="#e55a5e" stroke-width="10" stroke-linecap="butt" stroke-linejoin="miter" />
<polygon points="1806.0,521.6 1806.0,547.0 1829.0,534.3" fill="#e55a5e"/>
<path d="M1774.0,588.0 L1799.0,588.0" fill="none" stroke="#e55a5e" stroke-width="10" stroke-linecap="butt" stroke-linejoin="miter" />
<polygon points="1806.0,575.3 1806.0,600.7 1829.0,588.0" fill="#e55a5e"/>
<path d="M1900.3,530.0 L1926.5,530.0" fill="none" stroke="#e55a5e" stroke-width="10" stroke-linecap="butt" stroke-linejoin="miter" />
<path d="M1937.8,530.0 L1964.0,530.0" fill="none" stroke="#e55a5e" stroke-width="10" stroke-linecap="butt" stroke-linejoin="miter" />
<polygon points="1962.0,516.3 1962.0,543.7 1985.3,530.0" fill="#e55a5e"/>
<path d="M1900.3,590.5 L1926.5,590.5" fill="none" stroke="#e55a5e" stroke-width="10" stroke-linecap="butt" stroke-linejoin="miter" />
<path d="M1937.8,590.5 L1964.0,590.5" fill="none" stroke="#e55a5e" stroke-width="10" stroke-linecap="butt" stroke-linejoin="miter" />
<polygon points="1962.0,576.8 1962.0,604.2 1985.3,590.5" fill="#e55a5e"/>
<text x="1689.7" y="230.7" font-size="18" font-weight="bold" fill="#1f1f1f" text-anchor="middle" dominant-baseline="central" textLength="39.2" lengthAdjust="spacingAndGlyphs" stroke="#1f1f1f" stroke-width="0.45">270E</text>
<text x="1684.0" y="314.2" font-size="18" font-weight="bold" fill="#1f1f1f" text-anchor="middle" dominant-baseline="central" textLength="38.3" lengthAdjust="spacingAndGlyphs" stroke="#1f1f1f" stroke-width="0.45">270F</text>
<text x="1770.3" y="260.0" font-size="18" font-weight="bold" fill="#1f1f1f" text-anchor="middle" dominant-baseline="central" textLength="41" lengthAdjust="spacingAndGlyphs" transform="rotate(45 1770.3 260.0)" stroke="#1f1f1f" stroke-width="0.45">270D</text>
<text x="1842.8" y="332.5" font-size="18" font-weight="bold" fill="#1f1f1f" text-anchor="middle" dominant-baseline="central" textLength="41" lengthAdjust="spacingAndGlyphs" transform="rotate(48 1842.8 332.5)" stroke="#1f1f1f" stroke-width="0.45">270C</text>
<text x="1882.8" y="400.0" font-size="18" font-weight="bold" fill="#1f1f1f" text-anchor="middle" dominant-baseline="central" textLength="41" lengthAdjust="spacingAndGlyphs" transform="rotate(50 1882.8 400.0)" stroke="#1f1f1f" stroke-width="0.45">270B</text>
<text x="1796.5" y="421.3" font-size="18" font-weight="bold" fill="#1f1f1f" text-anchor="middle" dominant-baseline="central" textLength="41" lengthAdjust="spacingAndGlyphs" transform="rotate(45 1796.5 421.3)" stroke="#1f1f1f" stroke-width="0.45">270A</text>
<text x="1720.4" y="343.7" font-size="17" font-weight="bold" fill="#555" text-anchor="middle" dominant-baseline="central" textLength="38" lengthAdjust="spacingAndGlyphs" transform="rotate(50 1720.4 343.7)" >270G</text>
<text x="1752.0" y="375.0" font-size="16" font-weight="bold" fill="#555" text-anchor="middle" dominant-baseline="central" textLength="26" lengthAdjust="spacingAndGlyphs" transform="rotate(60 1752.0 375.0)" >270</text>
<text x="1574.4" y="323.4" font-size="17" font-weight="bold" fill="#1f1f1f" text-anchor="middle" dominant-baseline="central" textLength="41.8" lengthAdjust="spacingAndGlyphs" stroke="#1f1f1f" stroke-width="0.45">ELEV.</text>
<text x="1545.0" y="242.0" font-size="18" font-weight="bold" fill="#1f1f1f" text-anchor="middle" dominant-baseline="central" textLength="30" lengthAdjust="spacingAndGlyphs" stroke="#1f1f1f" stroke-width="0.45">260</text>
<text x="1448.8" y="255.0" font-size="18" font-weight="bold" fill="#1f1f1f" text-anchor="middle" dominant-baseline="central" textLength="41" lengthAdjust="spacingAndGlyphs" transform="rotate(-45 1448.8 255.0)" stroke="#1f1f1f" stroke-width="0.45">240D</text>
<text x="1368.8" y="313.8" font-size="18" font-weight="bold" fill="#1f1f1f" text-anchor="middle" dominant-baseline="central" textLength="41" lengthAdjust="spacingAndGlyphs" transform="rotate(-45 1368.8 313.8)" stroke="#1f1f1f" stroke-width="0.45">240C</text>
<text x="1471.3" y="341.3" font-size="18" font-weight="bold" fill="#1f1f1f" text-anchor="middle" dominant-baseline="central" textLength="40" lengthAdjust="spacingAndGlyphs" transform="rotate(-50 1471.3 341.3)" stroke="#1f1f1f" stroke-width="0.45">240E</text>
<text x="1306.3" y="400.0" font-size="18" font-weight="bold" fill="#1f1f1f" text-anchor="middle" dominant-baseline="central" textLength="41" lengthAdjust="spacingAndGlyphs" transform="rotate(-45 1306.3 400.0)" stroke="#1f1f1f" stroke-width="0.45">240B</text>
<text x="1391.7" y="420.0" font-size="18" font-weight="bold" fill="#1f1f1f" text-anchor="middle" dominant-baseline="central" textLength="41" lengthAdjust="spacingAndGlyphs" transform="rotate(-45 1391.7 420.0)" stroke="#1f1f1f" stroke-width="0.45">240A</text>
<text x="1283.0" y="475.5" font-size="18" font-weight="bold" fill="#1f1f1f" text-anchor="middle" dominant-baseline="central" textLength="42" lengthAdjust="spacingAndGlyphs" transform="rotate(-90 1283.0 475.5)" stroke="#1f1f1f" stroke-width="0.45">230D</text>
<text x="1283.0" y="560.5" font-size="18" font-weight="bold" fill="#1f1f1f" text-anchor="middle" dominant-baseline="central" textLength="42" lengthAdjust="spacingAndGlyphs" transform="rotate(-90 1283.0 560.5)" stroke="#1f1f1f" stroke-width="0.45">230C</text>
<text x="1283.0" y="647.5" font-size="18" font-weight="bold" fill="#1f1f1f" text-anchor="middle" dominant-baseline="central" textLength="42" lengthAdjust="spacingAndGlyphs" transform="rotate(-90 1283.0 647.5)" stroke="#1f1f1f" stroke-width="0.45">230B</text>
<text x="1362.0" y="560.5" font-size="18" font-weight="bold" fill="#1f1f1f" text-anchor="middle" dominant-baseline="central" textLength="42" lengthAdjust="spacingAndGlyphs" transform="rotate(-90 1362.0 560.5)" stroke="#1f1f1f" stroke-width="0.45">230A</text>
<text x="1595.0" y="539.3" font-size="17" font-weight="bold" fill="#1f1f1f" text-anchor="middle" dominant-baseline="central" textLength="51" lengthAdjust="spacingAndGlyphs" stroke="#1f1f1f" stroke-width="0.45">Hogan</text>
<text x="1595.0" y="563.0" font-size="17" font-weight="bold" fill="#1f1f1f" text-anchor="middle" dominant-baseline="central" textLength="82" lengthAdjust="spacingAndGlyphs" stroke="#1f1f1f" stroke-width="0.45">Sanctuary</text>
<text x="1405.0" y="671.7" font-size="18" font-weight="bold" fill="#1f1f1f" text-anchor="middle" dominant-baseline="central" textLength="41" lengthAdjust="spacingAndGlyphs" transform="rotate(45 1405.0 671.7)" stroke="#1f1f1f" stroke-width="0.45">220A</text>
<text x="1381.3" y="696.3" font-size="18" font-weight="bold" fill="#1f1f1f" text-anchor="middle" dominant-baseline="central" textLength="41" lengthAdjust="spacingAndGlyphs" transform="rotate(45 1381.3 696.3)" stroke="#1f1f1f" stroke-width="0.45">220B</text>
<text x="1487.5" y="752.5" font-size="17" font-weight="bold" fill="#1f1f1f" text-anchor="middle" dominant-baseline="central" textLength="40" lengthAdjust="spacingAndGlyphs" transform="rotate(42 1487.5 752.5)" stroke="#1f1f1f" stroke-width="0.45">220D</text>
<text x="1462.5" y="777.5" font-size="17" font-weight="bold" fill="#1f1f1f" text-anchor="middle" dominant-baseline="central" textLength="40" lengthAdjust="spacingAndGlyphs" transform="rotate(48 1462.5 777.5)" stroke="#1f1f1f" stroke-width="0.45">220C</text>
<text x="1392.5" y="792.5" font-size="18" font-weight="bold" fill="#1f1f1f" text-anchor="middle" dominant-baseline="central" textLength="42" lengthAdjust="spacingAndGlyphs" transform="rotate(45 1392.5 792.5)" stroke="#1f1f1f" stroke-width="0.45">216G</text>
<text x="1377.5" y="808.8" font-size="18" font-weight="bold" fill="#1f1f1f" text-anchor="middle" dominant-baseline="central" textLength="103" lengthAdjust="spacingAndGlyphs" transform="rotate(45 1377.5 808.8)" stroke="#1f1f1f" stroke-width="0.45">KITCHENETT</text>
<text x="1446.3" y="875.0" font-size="17" font-weight="bold" fill="#1f1f1f" text-anchor="middle" dominant-baseline="central" textLength="36" lengthAdjust="spacingAndGlyphs" transform="rotate(-70 1446.3 875.0)" stroke="#1f1f1f" stroke-width="0.45">216E</text>
<text x="1496.2" y="888.5" font-size="18" font-weight="bold" fill="#1f1f1f" text-anchor="middle" dominant-baseline="central" textLength="42.8" lengthAdjust="spacingAndGlyphs" stroke="#1f1f1f" stroke-width="0.45">216D</text>
<text x="1543.8" y="878.8" font-size="12" font-weight="bold" fill="#1f1f1f" text-anchor="middle" dominant-baseline="central" textLength="22" lengthAdjust="spacingAndGlyphs" stroke="#1f1f1f" stroke-width="0.2">216</text>
<text x="1543.8" y="897.5" font-size="11" font-weight="bold" fill="#1f1f1f" text-anchor="middle" dominant-baseline="central" textLength="7" lengthAdjust="spacingAndGlyphs" stroke="#1f1f1f" stroke-width="0.2">C</text>
<text x="1685.7" y="876.6" font-size="18" font-weight="bold" fill="#1f1f1f" text-anchor="middle" dominant-baseline="central" textLength="40.8" lengthAdjust="spacingAndGlyphs" stroke="#1f1f1f" stroke-width="0.45">216A</text>
<text x="1519.2" y="805.5" font-size="9" font-weight="bold" fill="#1f1f1f" text-anchor="middle" dominant-baseline="central" textLength="40" lengthAdjust="spacingAndGlyphs" stroke="#1f1f1f" stroke-width="0.2">WOMEN</text>
<text x="1627.1" y="780.0" font-size="17" font-weight="bold" fill="#1f1f1f" text-anchor="middle" dominant-baseline="central" textLength="41.8" lengthAdjust="spacingAndGlyphs" stroke="#1f1f1f" stroke-width="0.45">ELEV.</text>
<text x="1626.2" y="820.5" font-size="8" font-weight="bold" fill="#1f1f1f" text-anchor="middle" dominant-baseline="central" textLength="22.5" lengthAdjust="spacingAndGlyphs" stroke="#1f1f1f" stroke-width="0.2">216B</text>
<text x="1676.0" y="804.0" font-size="8" font-weight="bold" fill="#1f1f1f" text-anchor="middle" dominant-baseline="central" textLength="20" lengthAdjust="spacingAndGlyphs" stroke="#1f1f1f" stroke-width="0.2">MEN</text>
<text x="1797.8" y="686.3" font-size="18" font-weight="bold" fill="#1f1f1f" text-anchor="middle" dominant-baseline="central" textLength="30" lengthAdjust="spacingAndGlyphs" transform="rotate(-45 1797.8 686.3)" stroke="#1f1f1f" stroke-width="0.45">210</text>
<text x="1732.8" y="752.5" font-size="18" font-weight="bold" fill="#1f1f1f" text-anchor="middle" dominant-baseline="central" textLength="41" lengthAdjust="spacingAndGlyphs" transform="rotate(-47 1732.8 752.5)" stroke="#1f1f1f" stroke-width="0.45">210A</text>
<text x="1827.8" y="797.5" font-size="18" font-weight="bold" fill="#1f1f1f" text-anchor="middle" dominant-baseline="central" textLength="41" lengthAdjust="spacingAndGlyphs" transform="rotate(-47 1827.8 797.5)" stroke="#1f1f1f" stroke-width="0.45">210C</text>
<text x="1751.7" y="849.0" font-size="18" font-weight="bold" fill="#1f1f1f" text-anchor="middle" dominant-baseline="central" textLength="41" lengthAdjust="spacingAndGlyphs" transform="rotate(-52 1751.7 849.0)" stroke="#1f1f1f" stroke-width="0.45">210B</text>
</g>
</svg>
</body></html>
